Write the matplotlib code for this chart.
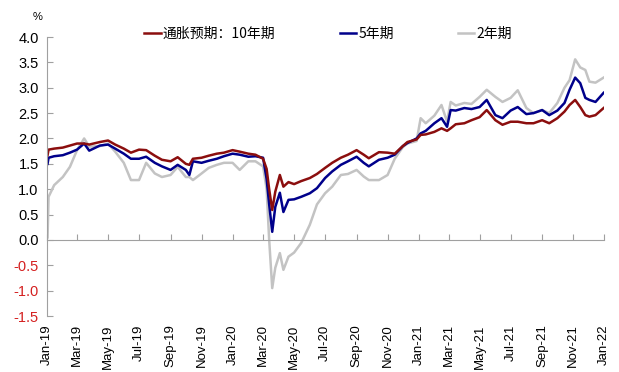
import matplotlib
matplotlib.use("Agg")
import matplotlib.pyplot as plt
import matplotlib.dates as mdates
import pandas as pd

plt.rcParams['font.family'] = ['Liberation Sans', 'Noto Sans CJK SC', 'DejaVu Sans']

# 数据
dates = [
    "2019-01-02", "2019-01-04", "2019-01-15", "2019-02-01", "2019-02-15", "2019-03-01",
    "2019-03-15", "2019-03-25", "2019-04-15", "2019-05-01", "2019-05-15", "2019-06-01",
    "2019-06-15", "2019-07-01", "2019-07-15", "2019-08-01", "2019-08-15", "2019-09-01",
    "2019-09-15", "2019-10-01", "2019-10-08", "2019-10-15", "2019-11-01", "2019-11-15",
    "2019-12-01", "2019-12-15", "2020-01-01", "2020-01-15", "2020-02-01", "2020-02-15",
    "2020-03-01", "2020-03-08", "2020-03-13", "2020-03-19", "2020-03-25", "2020-04-03",
    "2020-04-10", "2020-04-20", "2020-05-01", "2020-05-15", "2020-06-01", "2020-06-15",
    "2020-07-01", "2020-07-15", "2020-08-01", "2020-08-15", "2020-09-01", "2020-09-15",
    "2020-09-25", "2020-10-15", "2020-11-01", "2020-11-15", "2020-12-01", "2020-12-10",
    "2020-12-28", "2021-01-05", "2021-01-15", "2021-02-01", "2021-02-15", "2021-02-26",
    "2021-03-05", "2021-03-15", "2021-04-01", "2021-04-15", "2021-05-01", "2021-05-15",
    "2021-06-01", "2021-06-15", "2021-07-01", "2021-07-15", "2021-08-01", "2021-08-15",
    "2021-09-01", "2021-09-15", "2021-10-01", "2021-10-15", "2021-10-25", "2021-11-05",
    "2021-11-15", "2021-11-25", "2021-12-03", "2021-12-15", "2021-12-31",
]
be10 = [
    1.67, 1.78, 1.80, 1.82, 1.86, 1.90, 1.90, 1.88, 1.93, 1.96, 1.88, 1.80,
    1.72, 1.78, 1.77, 1.66, 1.58, 1.55, 1.63, 1.50, 1.48, 1.60, 1.62, 1.66,
    1.70, 1.72, 1.77, 1.74, 1.70, 1.68, 1.60, 1.40, 1.00, 0.59, 0.95, 1.28,
    1.05, 1.14, 1.10, 1.16, 1.22, 1.30, 1.42, 1.52, 1.62, 1.68, 1.77, 1.68,
    1.61, 1.73, 1.72, 1.70, 1.85, 1.93, 1.98, 2.07, 2.08, 2.13, 2.20, 2.15,
    2.20, 2.28, 2.30, 2.36, 2.42, 2.56, 2.36, 2.27, 2.33, 2.33, 2.30, 2.30,
    2.36, 2.30, 2.40, 2.53, 2.66, 2.76, 2.62, 2.46, 2.43, 2.46, 2.60,
]
be5 = [
    1.50, 1.62, 1.65, 1.67, 1.72, 1.78, 1.90, 1.76, 1.86, 1.88, 1.80, 1.70,
    1.60, 1.60, 1.64, 1.52, 1.45, 1.38, 1.48, 1.38, 1.28, 1.55, 1.52, 1.56,
    1.60, 1.65, 1.70, 1.68, 1.64, 1.65, 1.62, 1.20, 0.70, 0.16, 0.65, 0.93,
    0.55, 0.79, 0.80, 0.85, 0.92, 1.02, 1.22, 1.35, 1.48, 1.55, 1.64, 1.52,
    1.45, 1.58, 1.62, 1.68, 1.85, 1.91, 2.00, 2.10, 2.15, 2.30, 2.40, 2.23,
    2.56, 2.55, 2.60, 2.58, 2.62, 2.76, 2.46, 2.40, 2.55, 2.62, 2.48, 2.50,
    2.56, 2.46, 2.55, 2.70, 2.96, 3.20, 3.09, 2.80, 2.76, 2.72, 2.90,
]
be2 = [
    0.05, 0.85, 1.08, 1.24, 1.44, 1.77, 2.00, 1.84, 1.85, 1.90, 1.74, 1.52,
    1.18, 1.18, 1.52, 1.31, 1.24, 1.28, 1.44, 1.24, 1.24, 1.18, 1.31, 1.42,
    1.48, 1.52, 1.52, 1.38, 1.55, 1.55, 1.45, 1.00, 0.00, -0.95, -0.55, -0.26,
    -0.59, -0.33, -0.25, -0.06, 0.30, 0.70, 0.92, 1.05, 1.28, 1.30, 1.38, 1.25,
    1.18, 1.18, 1.28, 1.60, 1.83, 1.90, 1.95, 2.40, 2.30, 2.45, 2.66, 2.33,
    2.72, 2.65, 2.70, 2.68, 2.82, 2.96, 2.82, 2.72, 2.80, 2.95, 2.60, 2.50,
    2.56, 2.50, 2.70, 3.00, 3.15, 3.56, 3.40, 3.35, 3.12, 3.10, 3.20,
]
labels = ["通胀预期：10年期", "5年期", "2年期"]

x = pd.to_datetime(dates)

fig = plt.figure(figsize=(6.19, 3.72), dpi=100)
ax = fig.add_axes([0.076, 0.1505, 0.900, 0.75])

l2, = ax.plot(x, be2, color="#c3c3c3", lw=1.8)
l5, = ax.plot(x, be5, color="#00008b", lw=1.8)
l10, = ax.plot(x, be10, color="#8b0e0e", lw=1.8)

ax.set_xlim(pd.Timestamp("2019-01-01"), pd.Timestamp("2022-01-01"))
ax.set_ylim(-1.5, 4.0)
ax.set_yticks([i * 0.5 - 1.5 for i in range(12)])
ax.set_yticklabels([f"{v:.1f}" for v in ax.get_yticks()])
for t, v in zip(ax.get_yticklabels(), ax.get_yticks()):
    if v < 0:
        t.set_color("#d42020")

# 坐标轴样式
for s in ["top", "right"]:
    ax.spines[s].set_visible(False)
ax.spines["left"].set_color("#a0a0a0")
ax.spines["bottom"].set_color("#a0a0a0")
ax.spines["bottom"].set_position(("data", 0))
ax.tick_params(axis="y", direction="in", length=4, color="#a0a0a0", labelsize=10.5, pad=6)
ax.tick_params(axis="x", direction="in", length=4, color="#a0a0a0", labelbottom=False)

locator = mdates.MonthLocator(bymonth=[1, 3, 5, 7, 9, 11])
ax.xaxis.set_major_locator(locator)

sec = ax.secondary_xaxis("bottom")
sec.xaxis.set_major_locator(locator)
sec.xaxis.set_major_formatter(mdates.DateFormatter("%b-%y"))
sec.spines["bottom"].set_visible(False)
sec.tick_params(axis="x", length=0, labelsize=9.5, rotation=90, pad=6)

fig.text(0.052, 0.945, "%", fontsize=8)

fig.legend([l10, l5, l2], labels, loc="center", bbox_to_anchor=(0.53, 0.91),
           ncol=3, frameon=False, handlelength=1.2,
           handletextpad=0.15, columnspacing=4.6,
           prop={"family": ["Noto Sans CJK SC", "Liberation Sans"], "size": 10})

fig.savefig("out.png", dpi=100)
